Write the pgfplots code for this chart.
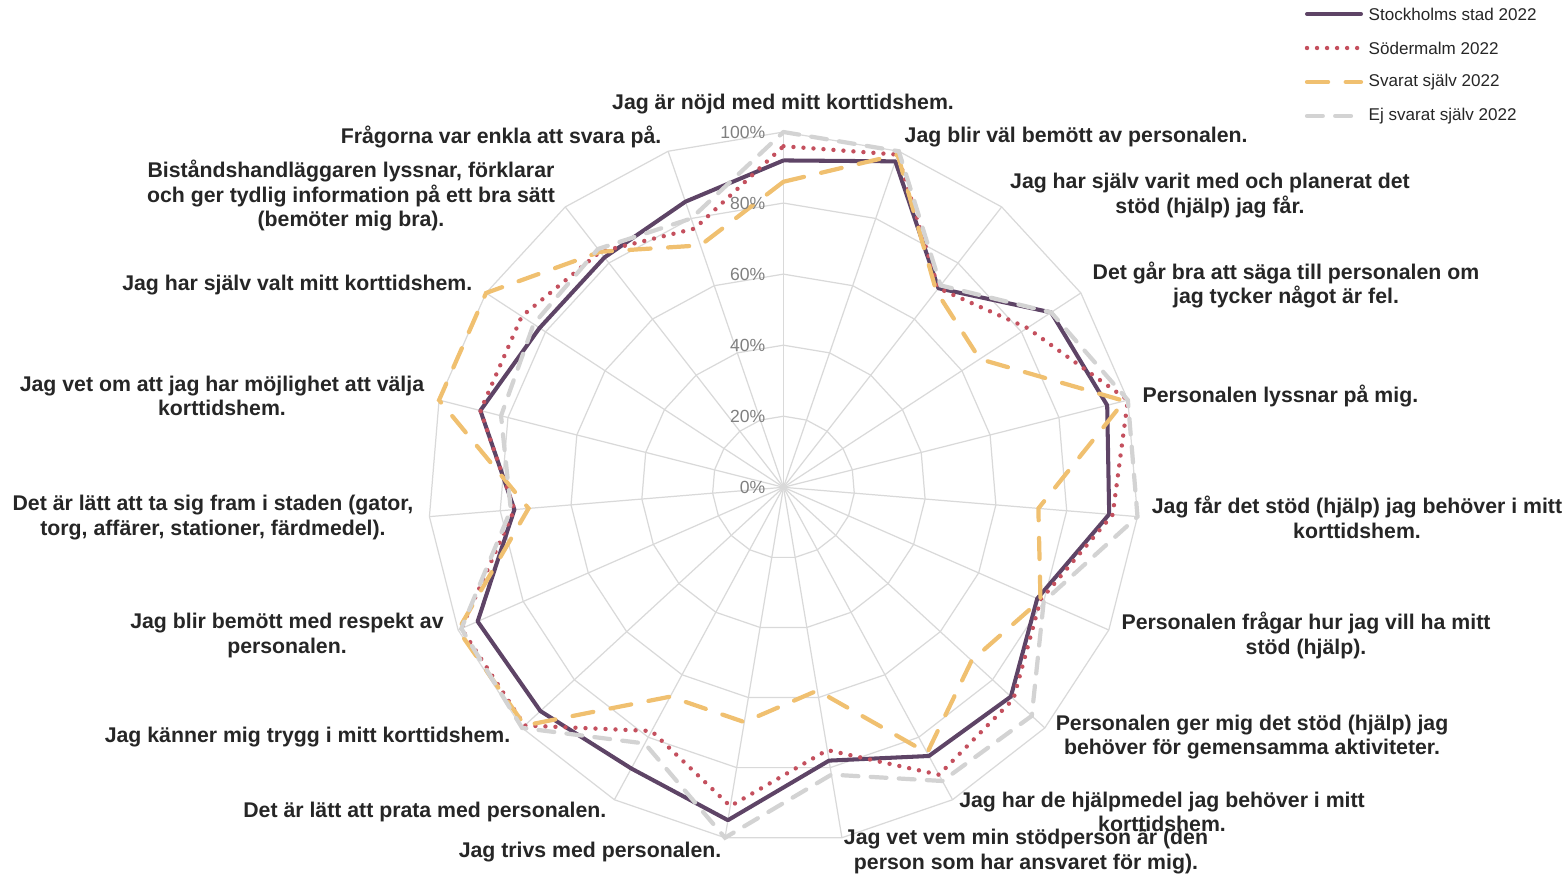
\documentclass[border=0pt]{standalone}
\usepackage{pgfplots}
\usepackage{pgfplotstable}
\pgfplotsset{compat=1.18}
\usepackage{fontspec}
\setmainfont{Liberation Sans}
\definecolor{stockc}{HTML}{5E4466}
\definecolor{soderc}{HTML}{C4505E}
\definecolor{svaratc}{HTML}{F0C070}
\definecolor{ejc}{HTML}{D3D3D3}
\definecolor{gridc}{HTML}{D9D9D9}
\definecolor{txtc}{HTML}{262626}
\definecolor{tickc}{HTML}{7F7F7F}

\pgfplotstableread{
ang stock soder svarat ej
90 92 96 86 100
71.0526 97 99 99 100
52.1053 71 71 70 72
33.1579 90 82 66 90
14.2105 94 100 99 100
-4.7368 92 93 72 100
-23.6842 78 79 79 80
-42.6316 87 88 72 95
-61.5789 86 92 85 94
-80.5263 78 75 58 82
-99.4737 95 91 67 100
-118.4211 90 78 67 82
-137.3684 93 99 99 100
-156.3158 94 99 100 99
-175.2632 76 76 72 77
-194.2105 88 88 100 82
-213.1579 82 88 100 84
-232.1053 82 84 84 85
-251.0526 85 77 72 80
-270 92 96 86 100
}\radar

\tikzset{
  stockstyle/.style={stockc, line width=1.15pt, line join=round},
  soderstyle/.style={soderc, line width=1.25pt, line cap=round, dash pattern=on 0pt off 2.85pt},
  svaratstyle/.style={svaratc, line width=1.2pt, line cap=round, dash pattern=on 6pt off 5pt},
  ejstyle/.style={ejc, line width=1.2pt, line cap=round, dash pattern=on 4.5pt off 3.5pt},
}

\begin{document}
\begin{tikzpicture}
\begin{scope}[x=0.01cm, y=-0.01cm]
\path[use as bounding box] (0,0) rectangle (1567,875);
\end{scope}

\begin{axis}[
  at={(7.83cm,-4.87cm)}, anchor=origin,
  x=0.0355cm, y=0.0355cm,
  xmin=-100, xmax=100, ymin=-100, ymax=100,
  hide axis, clip=false,
]
% grid polygons
\pgfplotsinvokeforeach{20,40,60,80,100}{
  \addplot[gridc, line width=0.35pt, data cs=polar, forget plot] table[x=ang, y expr=#1] {\radar};
}
% spokes
\pgfplotsinvokeforeach{0,...,18}{
  \draw[gridc, line width=0.35pt] (axis cs:0,0) -- (axis cs:{100*cos(90-#1*360/19)},{100*sin(90-#1*360/19)});
}
% series
\addplot[stockstyle, data cs=polar] table[x=ang, y=stock] {\radar};
\addplot[soderstyle, data cs=polar] table[x=ang, y=soder] {\radar};
\addplot[svaratstyle, data cs=polar] table[x=ang, y=svarat] {\radar};
\addplot[ejstyle, data cs=polar] table[x=ang, y=ej] {\radar};
\end{axis}

\begin{scope}[x=0.01cm, y=-0.01cm]
% tick labels
\begin{scope}[every node/.style={anchor=east, inner sep=0pt, text=tickc, font=\fontsize{5.0}{5.5}\selectfont}]
\node at (766,132) {100\%};
\node at (766,203) {80\%};
\node at (766,274) {60\%};
\node at (766,345) {40\%};
\node at (766,416) {20\%};
\node at (766,487) {0\%};
\end{scope}
% category labels
\begin{scope}[every node/.style={inner sep=0pt, text=txtc, align=center, font=\fontsize{6.05}{6.97}\selectfont\bfseries}]
\node at (783,104) {Jag är nöjd med mitt korttidshem.};
\node[anchor=west] at (904,137) {Jag blir väl bemött av personalen.};
\node at (1210,195.5) {Jag har själv varit med och planerat det\\stöd (hjälp) jag får.};
\node at (1286,285) {Det går bra att säga till personalen om\\jag tycker något är fel.};
\node[anchor=west] at (1142,396) {Personalen lyssnar på mig.};
\node at (1357,517.5) {Jag får det stöd (hjälp) jag behöver i mitt\\korttidshem.};
\node at (1306,635.5) {Personalen frågar hur jag vill ha mitt\\stöd (hjälp).};
\node at (1252,737) {Personalen ger mig det stöd (hjälp) jag\\behöver för gemensamma aktiviteter.};
\node at (1162,812) {Jag har de hjälpmedel jag behöver i mitt\\korttidshem.};
\node at (1026,851.5) {Jag vet vem min stödperson är (den\\person som har ansvaret för mig).};
\node[anchor=east] at (722,852) {Jag trivs med personalen.};
\node[anchor=east] at (607,812) {Det är lätt att prata med personalen.};
\node[anchor=east] at (511,737) {Jag känner mig trygg i mitt korttidshem.};
\node at (287,635.5) {Jag blir bemött med respekt av\\personalen.};
\node at (213,517.5) {Det är lätt att ta sig fram i staden (gator,\\torg, affärer, stationer, färdmedel).};
\node at (222,396) {Jag vet om att jag har möjlighet att välja\\korttidshem.};
\node[anchor=east] at (473,285) {Jag har själv valt mitt korttidshem.};
\node at (351,195.5) {Biståndshandläggaren lyssnar, förklarar\\och ger tydlig information på ett bra sätt\\(bemöter mig bra).};
\node[anchor=east] at (662,137) {Frågorna var enkla att svara på.};
\end{scope}
% legend
\begin{scope}[every node/.style={anchor=west, inner sep=0pt, text=txtc, font=\fontsize{4.85}{5.3}\selectfont}]
\draw[stockstyle, line cap=round] (1307,14) -- (1361,14);
\node at (1368,14) {Stockholms stad 2022};
\draw[soderstyle] (1307,48) -- (1361,48);
\node at (1368,48) {Södermalm 2022};
\draw[svaratstyle] (1307,82) -- (1361,82);
\node at (1368,82) {Svarat själv 2022};
\draw[ejstyle] (1307,116) -- (1361,116);
\node at (1368,116) {Ej svarat själv 2022};
\end{scope}
\end{scope}
\end{tikzpicture}
\end{document}
